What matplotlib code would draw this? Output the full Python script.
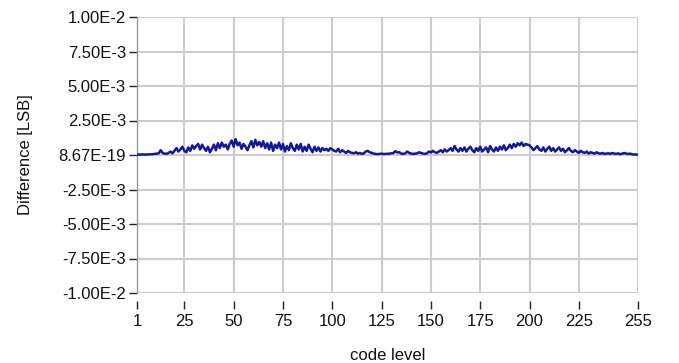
import matplotlib
matplotlib.use("Agg")
import matplotlib.pyplot as plt
import numpy as np
from matplotlib.ticker import FixedLocator, FixedFormatter

# code levels 1..255
code_level = list(range(1, 256))

# difference values in units of 1e-4 LSB
diff_e4 = [
    0.3, 0.3, 0.3, 0.4, 0.3, 0.4, 0.4, 0.5, 0.6, 0.8,
    1.0, 1.2, 3.5, 1.5, 1.0, 0.8, 1.5, 2.5, 1.2, 3.0,
    5.0, 2.5, 4.0, 6.0, 3.0, 2.0, 5.5, 3.0, 7.0, 4.5,
    6.5, 8.0, 4.0, 7.5, 5.0, 3.0, 6.0, 2.0, 4.5, 7.5,
    3.5, 8.5, 5.0, 9.0, 6.0, 7.5, 4.0, 8.0, 10.5, 6.0,
    11.5, 7.0, 9.0, 4.5, 8.0, 6.0, 3.5, 7.0, 10.0, 5.5,
    11.0, 7.0, 9.5, 6.0, 10.0, 5.0, 8.5, 4.0, 9.0, 3.0,
    7.5, 5.0, 9.0, 4.0, 8.0, 2.5, 6.5, 3.5, 8.5, 5.0,
    3.0, 7.5, 4.0, 8.0, 2.5, 6.0, 3.0, 7.5, 4.5, 2.0,
    6.0, 3.0, 5.5, 2.5, 5.0, 3.5, 4.5, 3.0, 5.0, 4.0,
    3.0, 2.5, 4.5, 2.0, 3.5, 2.5, 1.5, 3.0, 2.0, 1.5,
    1.2, 2.0, 1.0, 1.5, 0.8, 1.2, 2.5, 3.0, 2.0, 1.5,
    1.0, 0.8, 0.6, 0.8, 1.0, 0.7, 0.8, 0.9, 1.0, 1.2,
    1.5, 2.8, 1.8, 2.0, 1.0, 0.8, 1.2, 2.5, 1.5, 1.0,
    0.8, 1.0, 1.2, 2.0, 1.5, 1.0, 0.8, 1.2, 2.5, 1.8,
    3.0, 2.0, 1.5, 2.5, 3.5, 2.0, 4.0, 2.5, 3.5, 5.0,
    3.0, 6.5, 4.0, 2.5, 5.0, 3.0, 5.5, 2.5, 4.5, 6.0,
    3.5, 2.0, 5.0, 3.0, 6.0, 2.5, 4.0, 5.5, 2.0, 6.5,
    4.0, 2.5, 5.5, 3.0, 6.0, 4.0, 7.0, 3.5, 5.0, 7.5,
    5.0, 8.0, 6.0, 8.5, 7.0, 9.0, 6.5, 8.0, 7.5, 7.0,
    5.5, 3.5, 5.0, 6.5, 4.0, 3.0, 5.5, 2.5, 4.5, 6.0,
    3.0, 5.0, 2.5, 4.0, 5.5, 3.0, 4.5, 2.0, 3.5, 5.0,
    3.0, 2.0, 3.5, 2.5, 1.5, 3.0, 2.0, 1.5, 2.5, 1.0,
    2.0, 1.5, 1.0, 2.0, 1.2, 1.0, 1.5, 0.8, 1.0, 1.2,
    0.8, 1.5, 1.0, 0.8, 1.2, 0.5, 1.0, 1.5, 1.0, 0.8,
    1.0, 0.5, 0.3, 0.4, 0.2,
]
difference = [v * 1e-4 for v in diff_e4]

x_ticks = [1, 25, 50, 75, 100, 125, 150, 175, 200, 225, 255]
x_tick_labels = ["1", "25", "50", "75", "100", "125", "150", "175", "200", "225", "255"]
y_ticks = [1e-2, 7.5e-3, 5e-3, 2.5e-3, 0.0, -2.5e-3, -5e-3, -7.5e-3, -1e-2]
y_tick_labels = ["1.00E-2", "7.50E-3", "5.00E-3", "2.50E-3", "8.67E-19",
                 "-2.50E-3", "-5.00E-3", "-7.50E-3", "-1.00E-2"]

font = ["Liberation Sans Narrow", "Liberation Sans", "DejaVu Sans"]
plt.rcParams['font.family'] = font

W, H = 679, 363
fig = plt.figure(figsize=(W / 100, H / 100), dpi=100)
left, right, top, bottom = 137, 638, 17, 293
ax = fig.add_axes([left / W, 1 - bottom / H, (right - left) / W, (bottom - top) / H])

ax.plot(code_level, difference, color="#12189a", lw=1.8, zorder=3)

ax.set_xlim(1, 255)
ax.set_ylim(-1e-2, 1e-2)
ax.xaxis.set_major_locator(FixedLocator(x_ticks))
ax.xaxis.set_major_formatter(FixedFormatter(x_tick_labels))
ax.yaxis.set_major_locator(FixedLocator(y_ticks))
ax.yaxis.set_major_formatter(FixedFormatter(y_tick_labels))

ax.grid(True, color="#cccccc", lw=1.5, zorder=0)
ax.set_axisbelow(True)

for s in ["top", "right"]:
    ax.spines[s].set_visible(False)
ax.spines["bottom"].set_position(("outward", 6))
ax.spines["bottom"].set_visible(False)
ax.spines["left"].set_color("#999999")
ax.spines["left"].set_linewidth(1.0)

ax.tick_params(axis="x", direction="out", length=6, width=1, color="#222222",
               labelsize=12, pad=3, labelcolor="#111111")
ax.tick_params(axis="y", direction="out", length=6, width=1, color="#222222",
               labelsize=12, pad=2, labelcolor="#111111")

ax.set_xlabel("code level", fontsize=12, color="#111111", labelpad=14)
ax.set_ylabel("Difference [LSB]", fontsize=12, color="#111111", labelpad=18)

fig.savefig("out.png", dpi=100)
